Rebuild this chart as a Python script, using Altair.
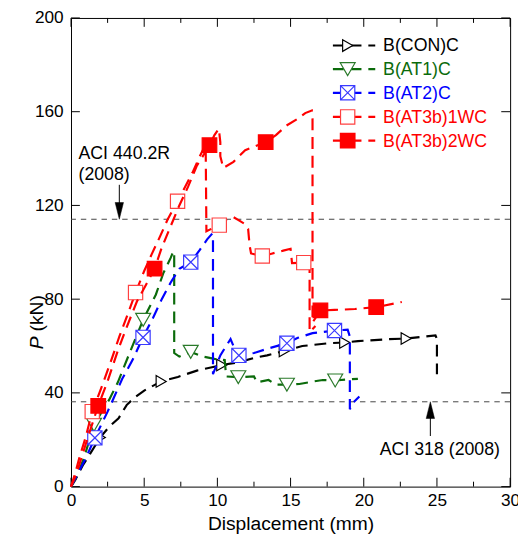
import altair as alt
import pandas as pd

FONT = "Liberation Sans"

# ---------------- data ----------------
con_x = [0, 0.3, 0.8, 1.3, 2.0, 2.6, 3.25, 3.8, 4.3, 5.0, 6.16, 7.3, 8.6, 10.3, 11.4, 12.7, 13.4, 14.57,
         15.8, 17.6, 18.7, 19.6, 21.6, 22.9, 24.1, 24.9, 25.0, 25.0]
con_y = [0, 3, 9, 14, 21, 25.5, 29.2, 34.8, 37.8, 41, 44.9, 46.8, 49.5, 51.9, 53, 55.2, 56, 57.9,
         60, 61.2, 61.5, 62.1, 62.9, 63.2, 64, 64.5, 63, 48]
con_mx = [2.0, 6.16, 10.3, 14.57, 18.7, 22.9]
con_my = [21, 44.9, 51.9, 57.9, 61.5, 63.2]

at1_x = [0, 0.4, 0.9, 1.57, 2.6, 3.2, 4.0, 4.93, 5.8, 6.3, 6.8, 7.0, 7.05, 7.05, 7.4, 8.18, 9.0, 9.8, 10.5,
         10.6, 11.43, 12.5, 12.7, 13.5, 14.0, 14.75, 15.6, 16.5, 17.2, 18.05, 19.0, 19.6]
at1_y = [0, 4.5, 12.5, 26.4, 37, 44.5, 57, 71.2, 82, 91, 97.5, 100.5, 99, 57, 55.5, 57.5, 55.5, 54.5, 54,
         47, 46.7, 47, 44.5, 45.5, 43.5, 43.5, 43.8, 44.8, 45.5, 45.3, 45.8, 46]
at1_mx = [1.57, 4.93, 8.18, 11.43, 14.75, 18.05]
at1_my = [26.4, 71.2, 57.5, 46.7, 43.5, 45.3]

at2_x = [0, 0.5, 1.0, 1.63, 2.5, 3.5, 4.2, 4.92, 5.6, 6.2, 6.8, 7.4, 8.18, 8.8, 9.3, 9.65, 9.7, 9.7,
         10.2, 10.9, 11.3, 11.47, 12.5, 13.5, 14.75, 15.5, 16.5, 18.0, 18.9, 19.05, 19.05, 19.3, 19.7]
at2_y = [0, 6, 12, 20.8, 32, 46, 54, 63.7, 72, 80, 87, 93, 95.8, 101, 105.5, 108, 106, 48,
         56, 63, 57, 56, 57, 59, 61.2, 63.5, 65.5, 66.6, 67, 64, 33, 36, 38.5]
at2_mx = [1.63, 4.92, 8.18, 11.47, 14.75, 18.0]
at2_my = [20.8, 63.7, 95.8, 56, 61.2, 66.6]

w1_x = [0, 0.3, 0.6, 1.0, 1.45, 2.0, 2.7, 3.3, 3.9, 4.41, 5.0, 5.5, 6.1, 6.6, 7.28, 7.8, 8.3, 8.8, 9.2,
        9.25, 10.13, 10.6, 11.1, 11.5, 11.9, 12.1, 12.2, 12.3, 13.07, 13.7, 14.5, 15.0, 15.1, 15.9, 16.3,
        16.3, 16.7]
w1_y = [0, 6, 13, 21, 32, 41, 53, 64, 74, 82.8, 92, 99, 107, 114, 121.8, 128, 134, 141, 146,
        109, 111.6, 114, 115, 113.5, 112, 110, 103, 99.5, 98.4, 99.4, 100.7, 101.5, 95.4, 95.6, 94,
        66, 68.5]
w1_mx = [1.45, 4.41, 7.28, 10.13, 13.07, 15.9]
w1_my = [32, 82.8, 121.8, 111.6, 98.4, 95.6]

w2_x = [0, 0.4, 0.8, 1.2, 1.86, 2.5, 3.2, 3.8, 4.5, 5.2, 5.71, 6.2, 6.8, 7.4, 8.0, 8.6, 9.1, 9.46, 9.8,
        10.1, 10.2, 10.2, 10.4, 11.1, 11.9, 12.5, 13.3, 14.0, 14.7, 15.5, 16.0, 16.45, 16.5, 16.5, 17.04,
        18.0, 19.4, 20.85, 22.6]
w2_y = [0, 6, 14, 22, 34.5, 45, 58, 68, 79, 87, 93, 102, 111, 120, 128, 137, 142, 145.7, 150,
        152.7, 147, 141, 136, 138.6, 143.6, 145, 147, 150, 154, 157, 159.4, 160.5, 157, 70, 75.2,
        75.4, 75.8, 76.6, 78.8]
w2_mx = [1.86, 5.71, 9.46, 13.3, 17.04, 20.85]
w2_my = [34.5, 93, 145.7, 147, 75.2, 76.6]

names = ["B(CON)C", "B(AT1)C", "B(AT2)C", "B(AT3b)1WC", "B(AT3b)2WC"]
colors = ["#000000", "#0b6b0b", "#0000ff", "#ff0000", "#ff0000"]

x_ticks = [0, 5, 10, 15, 20, 25, 30]
x_minor = [2.5, 7.5, 12.5, 17.5, 22.5, 27.5]
y_ticks = [0, 40, 80, 120, 160, 200]

aci440 = 114.1
aci318 = 36.2

# ---------------- chart ----------------
W, H = 446, 476
xscale = alt.Scale(domain=[0, 30], nice=False, zero=False)
yscale = alt.Scale(domain=[0, 200], nice=False, zero=False)
xaxis = alt.Axis(values=x_ticks, title="Displacement (mm)", ticks=False, tickSize=0, domain=False,
                 grid=False, labelFlush=False, labelPadding=5, labelFontSize=17.5, labelFont=FONT,
                 labelColor="black", titleFont=FONT, titleFontSize=19.5, titleFontWeight="normal",
                 titleColor="black", titlePadding=6, labelOverlap=False)
yaxis = alt.Axis(values=y_ticks, title=None, ticks=False, tickSize=0, domain=False, grid=False,
                 labelPadding=8, labelFontSize=17.5, labelFont=FONT, labelColor="black", labelOverlap=False)


def X(f):
    return alt.X(f, type="quantitative", scale=xscale, axis=xaxis)


def Y(f):
    return alt.Y(f, type="quantitative", scale=yscale, axis=yaxis)


SQX = "M-1,-1L1,-1L1,1L-1,1Z M-1,-1L1,1 M1,-1L-1,1"
shapes = ["triangle-right", "triangle-down", SQX, "square", "square"]
fills = ["white", "white", "white", "white", "#ff0000"]
sizes = [140, 230, 210, 210, 220]
strokes = ["#000000", "#2a7a2a", "#3a3aff", "#ff4040", "#ff0000"]

series = [
    (con_x, con_y, con_mx, con_my),
    (at1_x, at1_y, at1_mx, at1_my),
    (at2_x, at2_y, at2_mx, at2_my),
    (w1_x, w1_y, w1_mx, w1_my),
    (w2_x, w2_y, w2_mx, w2_my),
]

layers = []

# reference lines
ref = pd.DataFrame({"y": [aci440, aci318]})
layers.append(alt.Chart(ref).mark_rule(color="#444444", strokeWidth=1, strokeDash=[5.5, 5]).encode(y=Y("y")))

# inward ticks
dx = pd.DataFrame({"v": x_ticks})
dxm = pd.DataFrame({"v": x_minor})
dy = pd.DataFrame({"v": y_ticks})
layers.append(alt.Chart(dx).mark_rule(color="black", strokeWidth=1).encode(x=X("v"), y=alt.value(H), y2=alt.value(H - 9)))
layers.append(alt.Chart(dx).mark_rule(color="black", strokeWidth=1).encode(x=X("v"), y=alt.value(0), y2=alt.value(9)))
layers.append(alt.Chart(dxm).mark_rule(color="black", strokeWidth=1).encode(x=X("v"), y=alt.value(H), y2=alt.value(H - 5)))
layers.append(alt.Chart(dxm).mark_rule(color="black", strokeWidth=1).encode(x=X("v"), y=alt.value(0), y2=alt.value(5)))
layers.append(alt.Chart(dy).mark_rule(color="black", strokeWidth=1).encode(y=Y("v"), x=alt.value(0), x2=alt.value(9)))
layers.append(alt.Chart(dy).mark_rule(color="black", strokeWidth=1).encode(y=Y("v"), x=alt.value(W), x2=alt.value(W - 9)))

# series
legend_y = [28, 52, 76, 100.5, 124.6]
for k, (xs, ys, mx, my) in enumerate(series):
    df = pd.DataFrame({"x": xs, "y": ys, "i": list(range(len(xs)))})
    layers.append(alt.Chart(df).mark_line(color=colors[k], strokeWidth=2.2, strokeDash=[12, 7]).encode(
        x=X("x"), y=Y("y"), order="i:Q"))
    dm = pd.DataFrame({"x": mx, "y": my})
    layers.append(alt.Chart(dm).mark_point(shape=shapes[k], fill=fills[k], fillOpacity=1, stroke=strokes[k],
                                           strokeWidth=1.2, opacity=1, size=sizes[k]).encode(x=X("x"), y=Y("y")))

# legend (drawn as marks)
for k in range(5):
    ly = legend_y[k]
    layers.append(alt.Chart(pd.DataFrame({"a": [0]})).mark_rule(color=colors[k], strokeWidth=2.2, strokeDash=[11, 7]).encode(
        x=alt.value(266), x2=alt.value(309), y=alt.value(ly)))
    layers.append(alt.Chart(pd.DataFrame({"a": [0]})).mark_point(shape=shapes[k], fill=fills[k], fillOpacity=1,
                                                                  stroke=strokes[k], strokeWidth=1.2, opacity=1,
                                                                  size=sizes[k]).encode(
        x=alt.value(281), y=alt.value(ly)))
    layers.append(alt.Chart(pd.DataFrame({"t": [names[k]]})).mark_text(
        align="left", baseline="middle", font=FONT, fontSize=18, color=colors[k]).encode(
        x=alt.value(317), y=alt.value(ly + 1), text="t:N"))

# annotations
ann_x = [0.51, 0.51, 25.2]
ann_y = [140.0, 131.0, 13.7]
ann_t = ["ACI 440.2R", "(2008)", "ACI 318 (2008)"]
ann_a = ["left", "left", "center"]
for i in range(3):
    layers.append(alt.Chart(pd.DataFrame({"x": [ann_x[i]], "y": [ann_y[i]], "t": [ann_t[i]]})).mark_text(
        align=ann_a[i], baseline="alphabetic", font=FONT, fontSize=18, color="black").encode(
        x=X("x"), y=Y("y"), text="t:N"))

# arrows
TRI_DOWN = "M-0.5,-1L0.5,-1L0,1Z"
TRI_UP = "M-0.5,1L0.5,1L0,-1Z"
layers.append(alt.Chart(pd.DataFrame({"x": [3.3], "y": [128.8], "y2": [aci440 + 3]})).mark_rule(
    color="black", strokeWidth=1).encode(x=X("x"), y=Y("y"), y2="y2:Q"))
layers.append(alt.Chart(pd.DataFrame({"x": [24.55], "y": [21.6], "y2": [aci318 - 3]})).mark_rule(
    color="black", strokeWidth=1).encode(x=X("x"), y=Y("y"), y2="y2:Q"))
layers.append(alt.Chart(pd.DataFrame({"x": [3.3], "y": [aci440]})).mark_point(
    shape=TRI_DOWN, size=289, filled=True, fill="black", stroke="black", strokeWidth=0.5, opacity=1,
    yOffset=-8.5).encode(x=X("x"), y=Y("y")))
layers.append(alt.Chart(pd.DataFrame({"x": [24.55], "y": [aci318]})).mark_point(
    shape=TRI_UP, size=289, filled=True, fill="black", stroke="black", strokeWidth=0.5, opacity=1,
    yOffset=8.5).encode(x=X("x"), y=Y("y")))

# y-axis title with italic P
layers.append(alt.Chart(pd.DataFrame({"t": ["P"]})).mark_text(
    angle=270, align="center", baseline="middle", font=FONT, fontSize=19.5, fontStyle="italic", color="black").encode(
    x=alt.value(-34), y=alt.value(330), text="t:N"))
layers.append(alt.Chart(pd.DataFrame({"t": ["(kN)"]})).mark_text(
    angle=270, align="center", baseline="middle", font=FONT, fontSize=19.5, color="black").encode(
    x=alt.value(-34), y=alt.value(300), text="t:N"))

chart = alt.layer(*layers).properties(
    width=W, height=H,
    autosize=alt.AutoSizeParams(type="none"),
    padding={"left": 64, "top": 6, "right": 8, "bottom": 44},
).configure_view(stroke="black", strokeWidth=1)

chart.save("out.html", embed_options={"renderer": "svg", "actions": False})
